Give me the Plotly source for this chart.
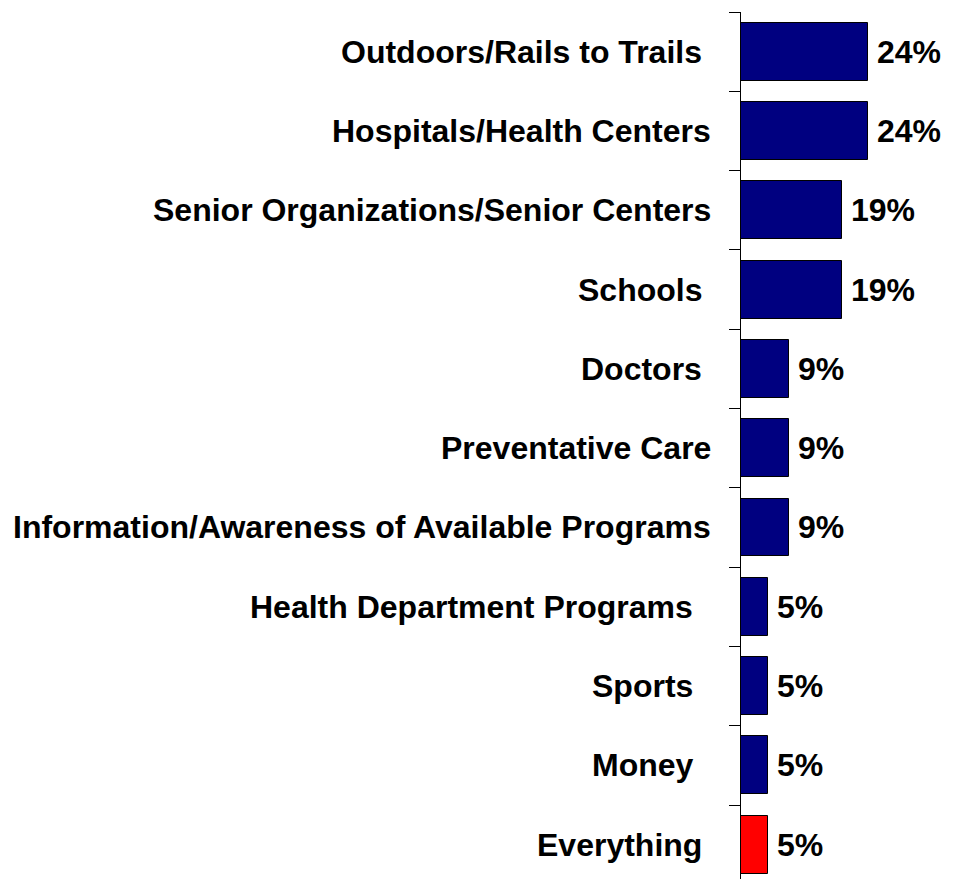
import plotly.graph_objects as go

# Survey responses, listed top to bottom
categories = [
    "Outdoors/Rails to Trails ",
    "Hospitals/Health Centers",
    "Senior Organizations/Senior Centers",
    "Schools ",
    "Doctors ",
    "Preventative Care",
    "Information/Awareness of Available Programs",
    "Health Department Programs  ",
    "Sports  ",
    "Money  ",
    "Everything ",
]
percents = [24, 24, 19, 19, 9, 9, 9, 5, 5, 5, 5]
bar_colors = ["#000080"] * 10 + ["#FF0000"]

W, H = 953, 879
FONT = "Liberation Sans, Arial, sans-serif"

positions = list(range(len(categories)))

fig = go.Figure(
    go.Bar(
        x=percents,
        y=positions,
        orientation="h",
        width=0.73,
        marker=dict(color=bar_colors, line=dict(color="black", width=1)),
        hoverinfo="skip",
    )
)

annotations = []
for pos, label, val in zip(positions, categories, percents):
    # keep trailing spaces visible by turning them into non-breaking spaces
    stripped = label.rstrip(" ")
    shown = stripped + "\u00a0" * (len(label) - len(stripped))
    annotations.append(dict(
        x=0, y=pos, xref="x", yref="y", text="<b>%s</b>" % shown,
        xanchor="right", yanchor="middle", xshift=-28, showarrow=False,
        font=dict(family=FONT, size=32, color="black"),
    ))
    annotations.append(dict(
        x=val, y=pos, xref="x", yref="y", text="<b>%d%%</b>" % val,
        xanchor="left", yanchor="middle", xshift=7, showarrow=False,
        font=dict(family=FONT, size=32, color="black"),
    ))

boundaries = [p - 0.5 for p in positions]

fig.update_layout(
    width=W,
    height=H,
    margin=dict(l=741, r=0, t=12, b=0),
    paper_bgcolor="white",
    plot_bgcolor="white",
    showlegend=False,
    bargap=0,
    annotations=annotations,
    xaxis=dict(
        range=[0, 40],
        showgrid=False,
        zeroline=False,
        showline=False,
        showticklabels=False,
        ticks="",
        fixedrange=True,
    ),
    yaxis=dict(
        range=[10.433, -0.5],
        tickvals=boundaries,
        ticktext=[""] * len(boundaries),
        ticks="outside",
        ticklen=11,
        tickwidth=1,
        tickcolor="black",
        showline=True,
        linecolor="black",
        linewidth=1,
        showgrid=False,
        zeroline=False,
        fixedrange=True,
    ),
)

fig.write_html("out.html")
